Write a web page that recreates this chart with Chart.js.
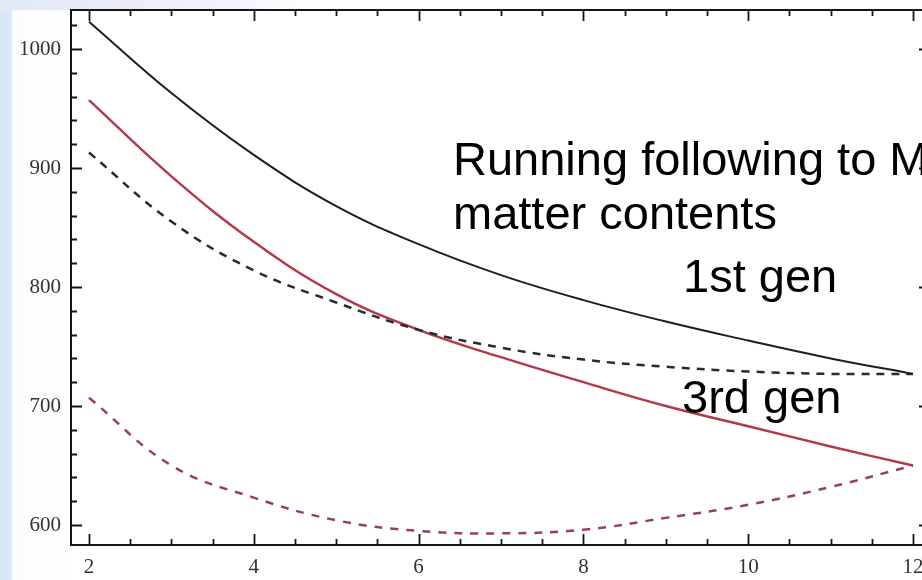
<!DOCTYPE html>
<html>
<head>
<meta charset="utf-8">
<script src="https://cdn.jsdelivr.net/npm/chart.js@4.4.1/dist/chart.umd.min.js"></script>
<style>
  html, body { margin: 0; padding: 0; overflow: hidden; }
  body {
    width: 922px; height: 580px; position: relative;
    background: linear-gradient(to right, #d6e6f3 0, #dbe9f5 12px, #fcfcfa 12px, #ffffff 80px);
  }
  #topband {
    position: absolute; left: 0; top: 0; width: 320px; height: 10px;
    background: linear-gradient(to right, #e3e8f6, #eef0fa 60%, rgba(255,255,255,0));
  }
  #chart-wrap { position: absolute; left: 0; top: 0; }
</style>
</head>
<body>
<div id="topband"></div>
<div id="chart-wrap"><canvas id="chart-line" width="930" height="580"></canvas></div>
<script>
// x values (loop count) and the four running curves
var xVals = [2, 3, 4, 5, 6, 7, 8, 9, 10, 11, 12];
var firstGenSolid = [1023, 963, 911, 868, 836, 810, 789, 771, 755, 740, 727];
var firstGenDashed = [913, 855, 814, 787, 764, 749, 739, 733, 729, 727, 727];
var thirdGenSolid = [957, 893, 838, 794, 764, 741, 720, 700, 683, 666, 650];
var thirdGenDashed = [707, 650, 623, 604, 595, 593, 596, 606, 617, 632, 650];

var xTicks = [2, 4, 6, 8, 10, 12];
var yTicks = [600, 700, 800, 900, 1000];

function toPoints(ys) {
    return xVals.map(function (x, i) { return { x: x, y: ys[i] }; });
}

function lineSet(ys, color, width, dash) {
    return {
        data: toPoints(ys),
        showLine: true,
        borderColor: color,
        borderWidth: width,
        borderDash: dash,
        pointRadius: 0,
        fill: false,
        tension: 0.4
    };
}

// inward frame ticks like the Mathematica frame
var frameTicks = {
    id: 'frameTicks',
    beforeDraw: function (chart) {
        var a = chart.chartArea, ctx = chart.ctx;
        ctx.save();
        ctx.fillStyle = '#ffffff';
        ctx.fillRect(a.left, a.top, a.right - a.left, a.bottom - a.top);
        ctx.restore();
    },
    afterDatasetsDraw: function (chart) {
        var ctx = chart.ctx, a = chart.chartArea;
        var x = chart.scales.x, y = chart.scales.y;
        ctx.save();
        ctx.strokeStyle = '#151515';
        ctx.lineWidth = 2;
        ctx.strokeRect(a.left, a.top, a.right - a.left, a.bottom - a.top);
        ctx.lineWidth = 1.8;
        ctx.beginPath();
        for (var v = 2; v <= 12.001; v += 0.5) {
            var len = (v % 2 === 0) ? 11 : 6;
            var px = Math.round(x.getPixelForValue(v)) + 0.5;
            ctx.moveTo(px, a.bottom); ctx.lineTo(px, a.bottom - len);
            ctx.moveTo(px, a.top); ctx.lineTo(px, a.top + len);
        }
        for (var w = 600; w <= 1020; w += 20) {
            var l2 = (w % 100 === 0) ? 11 : 6;
            var py = Math.round(y.getPixelForValue(w)) + 0.5;
            ctx.moveTo(a.left, py); ctx.lineTo(a.left + l2, py);
            ctx.moveTo(a.right, py); ctx.lineTo(a.right - l2, py);
        }
        ctx.stroke();
        ctx.restore();
    },
    afterDraw: function (chart) {
        var ctx = chart.ctx;
        ctx.save();
        ctx.fillStyle = '#000000';
        ctx.font = '47px "Liberation Sans", Arial, sans-serif';
        ctx.textBaseline = 'alphabetic';
        ctx.fillText('Running following to M', 453, 175);
        ctx.fillText('matter contents', 453, 229);
        ctx.fillText('1st gen', 683, 292);
        ctx.fillText('3rd gen', 682, 413);
        ctx.restore();
    }
};

var tickFont = { family: '"Liberation Serif", "Times New Roman", serif', size: 21 };

new Chart(document.getElementById('chart-line').getContext('2d'), {
    type: 'scatter',
    data: {
        datasets: [
            lineSet(firstGenSolid, '#1e1e1e', 2, []),
            lineSet(firstGenDashed, '#2a2a2a', 2.5, [8, 7]),
            lineSet(thirdGenSolid, '#b2384a', 2.4, []),
            lineSet(thirdGenDashed, '#964252', 2.5, [8, 8])
        ]
    },
    options: {
        responsive: false,
        animation: false,
        devicePixelRatio: 1,
        layout: { padding: { top: 10, right: 0, left: 0, bottom: 0 } },
        plugins: {
            legend: { display: false },
            tooltip: { enabled: false }
        },
        scales: {
            x: {
                type: 'linear',
                min: 1.7816,
                max: 12.206,
                afterBuildTicks: function (scale) {
                    scale.ticks = xTicks.map(function (v) { return { value: v }; });
                },
                afterFit: function (scale) {
                    scale.height = 35;
                    scale.paddingLeft = 0;
                    scale.paddingRight = 0;
                },
                grid: { display: false, drawTicks: false },
                border: { display: false },
                ticks: {
                    padding: 10,
                    color: '#333333',
                    font: tickFont,
                    maxRotation: 0,
                    autoSkip: false,
                    callback: function (v) { return String(v); }
                }
            },
            y: {
                type: 'linear',
                min: 583.2,
                max: 1032.8,
                afterBuildTicks: function (scale) {
                    scale.ticks = yTicks.map(function (v) { return { value: v }; });
                },
                afterFit: function (scale) {
                    scale.width = 71;
                    scale.paddingTop = 0;
                    scale.paddingBottom = 0;
                },
                grid: { display: false, drawTicks: false },
                border: { display: false },
                ticks: {
                    padding: 10,
                    color: '#333333',
                    font: tickFont,
                    callback: function (v) { return String(v); }
                }
            }
        }
    },
    plugins: [frameTicks]
});
</script>
</body>
</html>
